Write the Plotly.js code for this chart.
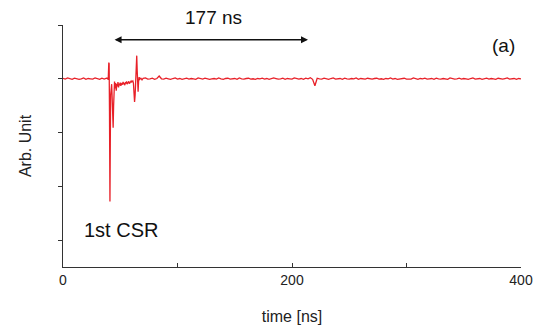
<!DOCTYPE html>
<html>
<head>
<meta charset="utf-8">
<script src="https://cdn.plot.ly/plotly-3.0.1.min.js"></script>
<style>html,body{margin:0;padding:0;background:#fff;}#chart{width:539px;height:331px;}</style>
</head>
<body>
<div id="chart"></div>
<script>
// time [ns]
const timeNs = [
  0,2,4,6,8,10,12,14,16,18,20,22,24,26,28,30,32,34,36,38,
  39,39.5,40,40.3,40.6,41,41.3,41.6,42,42.5,43,43.4,43.8,44.2,44.6,45,45.5,46,46.5,47,47.5,48,48.5,49,49.5,
  50,50.5,51,51.5,52,52.5,53,53.5,54,54.5,55,55.5,56,56.5,57,57.5,58,58.5,59,59.5,60,60.5,61,61.5,62,62.5,
  63,63.5,64,64.4,64.8,65.2,65.6,66,66.5,67,68,69,70,
  72,74,76,78,80,82,84,86,88,90,92,94,96,98,100,102,104,106,108,110,112,114,116,118,120,
  122,124,126,128,130,132,134,136,138,140,142,144,146,148,150,152,154,156,158,160,162,164,166,168,170,
  172,174,176,178,180,182,184,186,188,190,192,194,196,198,200,202,204,206,208,210,212,214,216,218,220,
  222,224,226,228,230,232,234,236,238,240,242,244,246,248,250,252,254,256,258,260,262,264,266,268,270,
  272,274,276,278,280,282,284,286,288,290,292,294,296,298,300,302,304,306,308,310,312,314,316,318,320,
  322,324,326,328,330,332,334,336,338,340,342,344,346,348,350,352,354,356,358,360,362,364,366,368,370,
  372,374,376,378,380,382,384,386,388,390,392,394,396,398,400
];
// signal [arb. unit]
const signal = [
  0.01,-0.005,0.015,0,-0.01,0.01,0.005,-0.01,0,0.015,-0.01,0.005,0,-0.005,0.015,0,-0.01,0.01,-0.005,0.01,
  0.01,-0.02,0.3,0.28,-0.6,-2.28,-1.2,-0.3,-0.15,-0.1,-0.4,-0.75,-0.91,-0.5,-0.2,-0.05,-0.18,-0.08,-0.22,-0.1,-0.14,-0.06,-0.16,-0.09,-0.12,
  -0.07,-0.13,-0.1,-0.08,-0.11,-0.06,-0.1,-0.08,-0.12,-0.06,-0.09,-0.05,-0.1,-0.07,-0.08,-0.05,-0.09,-0.06,-0.07,-0.04,-0.06,-0.05,-0.04,-0.08,-0.2,-0.43,
  -0.3,0.05,0.3,0.43,0.15,-0.1,-0.24,-0.05,0.03,-0.01,0.01,-0.02,0.01,
  0.015,-0.005,0,0.01,-0.01,0.005,0.05,0,-0.005,0.01,0,-0.01,0.005,0.015,-0.005,0.005,-0.01,0,0.01,-0.005,0.005,0,-0.01,0.015,0,
  -0.005,0.01,0.005,-0.01,0,0.005,-0.005,0.015,0,-0.01,0.005,0.01,-0.005,0,0.005,-0.01,0.015,0,-0.005,0.005,0.01,-0.005,0,-0.01,0.005,
  0,0.01,-0.005,0.005,-0.01,0,0.015,0.005,-0.005,0,0.01,-0.01,0.005,0,-0.005,0.015,0,-0.005,0.005,-0.01,0.01,0,0.02,-0.01,-0.13,
  0.01,0,-0.005,0.01,0,-0.01,0.005,0.015,-0.005,0,0.005,-0.01,0.01,0,-0.005,0.005,0,0.015,-0.01,0.005,0,-0.005,0.01,0,-0.005,
  0.005,0.01,-0.005,0,-0.01,0.005,0,0.015,-0.005,0.005,-0.01,0,0.005,0.01,-0.005,0,-0.005,0.015,0,-0.01,0.005,0,0.01,-0.005,0,
  0.005,-0.01,0.01,0,-0.005,0.005,0,-0.01,0.015,0.005,-0.005,0,0.01,-0.005,0.005,0,-0.01,0.005,0.015,-0.005,0,0.005,-0.01,0,0.01,
  -0.005,0.005,0,-0.01,0.01,0,-0.005,0.005,0.015,-0.005,0,0.005,-0.01,0.005,0
];
const xTickVals = [0,100,200,300,400];
const xTickText = ['0','','200','','400'];
const arrowStart = 43.7, arrowEnd = 214, arrowY = 0.725;

const font = 'Liberation Sans, Arial, sans-serif';
const trace = {
  x: timeNs, y: signal, type: 'scatter', mode: 'lines',
  line: {color: 'rgb(232,32,40)', width: 1.3}, hoverinfo: 'skip'
};
const layout = {
  width: 539, height: 331,
  margin: {l: 63, r: 18, t: 25, b: 64},
  paper_bgcolor: '#fff', plot_bgcolor: '#fff',
  showlegend: false,
  font: {family: font, color: '#222'},
  xaxis: {
    range: [0, 400], tickvals: xTickVals, ticktext: xTickText,
    ticks: 'inside', ticklen: 4, tickcolor: '#333', tickwidth: 1,
    showline: true, linecolor: '#333', linewidth: 1, showgrid: false, zeroline: false,
    tickfont: {size: 14, family: font, color: '#222'},
    title: {text: 'time [ns]', font: {size: 16, family: font, color: '#222'}, standoff: 24}
  },
  yaxis: {
    range: [-3.5, 1], tick0: 0, dtick: 1, showticklabels: false,
    ticks: 'outside', ticklen: 4, tickcolor: '#333', tickwidth: 1,
    showline: true, linecolor: '#333', linewidth: 1, showgrid: false, zeroline: false,
    title: {text: 'Arb. Unit', font: {size: 16, family: font, color: '#222'}, standoff: 22}
  },
  annotations: [
    {x: arrowEnd, y: arrowY, xref: 'x', yref: 'y', ax: arrowStart, ay: arrowY, axref: 'x', ayref: 'y',
     text: '', showarrow: true, arrowhead: 2, arrowside: 'end+start', arrowsize: 1, arrowwidth: 1.4, arrowcolor: '#111'},
    {x: 131, y: 1.084, xref: 'x', yref: 'paper', text: '177 ns', showarrow: false,
     font: {size: 19, family: font, color: '#111'}},
    {x: 385, y: 0.965, xref: 'x', yref: 'paper', text: '(a)', showarrow: false,
     font: {size: 19, family: font, color: '#111'}},
    {x: 51, y: 0.1, xref: 'x', yref: 'paper', text: '1st CSR', showarrow: false,
     font: {size: 20, family: font, color: '#111'}}
  ]
};
Plotly.newPlot('chart', [trace], layout, {displayModeBar: false, staticPlot: true});
</script>
</body>
</html>
